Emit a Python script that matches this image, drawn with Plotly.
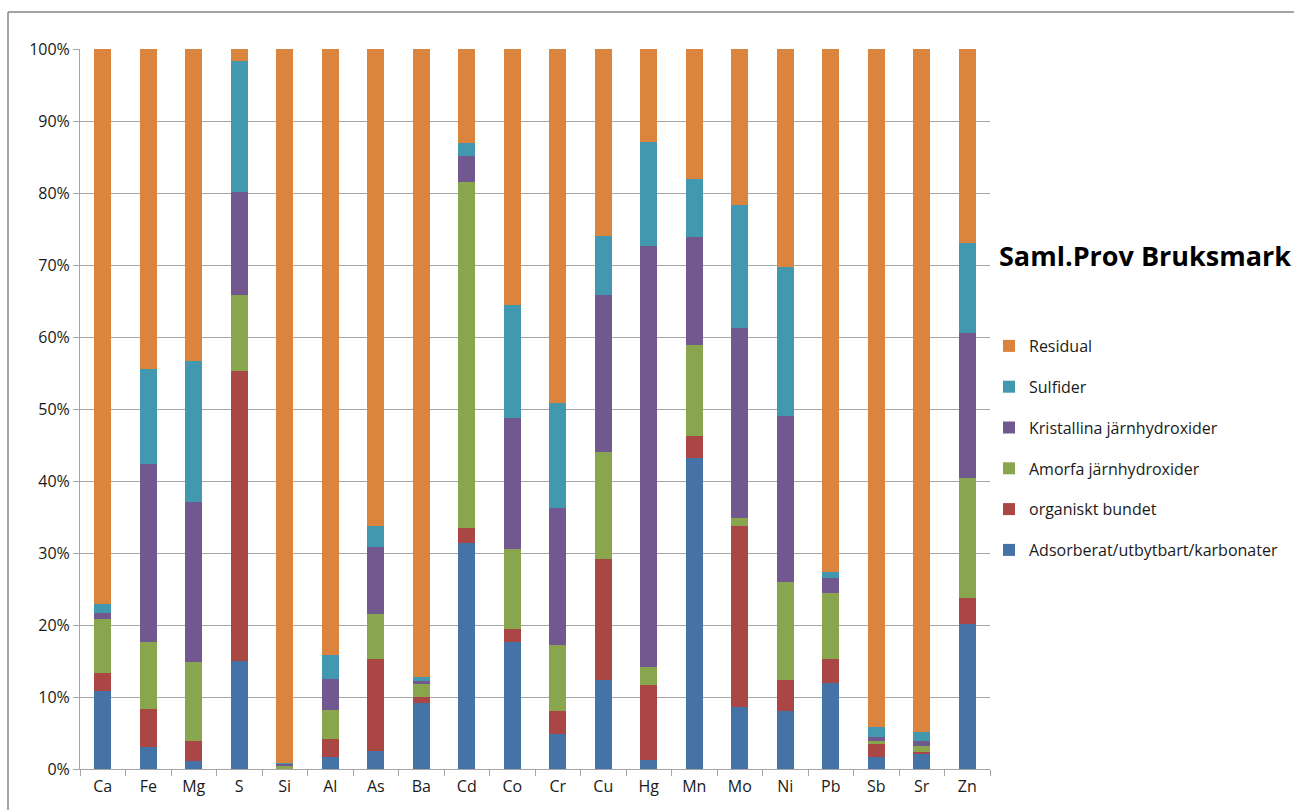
import plotly.graph_objects as go

# Elements along the x axis
elements = ["Ca", "Fe", "Mg", "S", "Si", "Al", "As", "Ba", "Cd", "Co",
            "Cr", "Cu", "Hg", "Mn", "Mo", "Ni", "Pb", "Sb", "Sr", "Zn"]

# Fraction shares (% of total), bottom to top in each column
adsorberat = [10.8, 3.0, 1.1, 15.0, 0.05, 1.7, 2.5, 9.1, 31.4, 17.6,
              4.9, 12.3, 1.2, 43.2, 8.6, 8.0, 12.0, 1.65, 2.1, 20.2]
organiskt = [2.5, 5.3, 2.8, 40.3, 0.02, 2.5, 12.8, 0.9, 2.1, 1.8,
             3.2, 16.8, 10.4, 3.0, 25.1, 4.4, 3.3, 1.85, 0.3, 3.5]
amorfa = [7.6, 9.3, 10.9, 10.6, 0.3, 4.0, 6.2, 1.8, 48.0, 11.1,
          9.1, 14.9, 2.5, 12.7, 1.1, 13.6, 9.1, 0.4, 0.8, 16.7]
kristallina = [0.8, 24.8, 22.3, 14.2, 0.35, 4.3, 9.3, 0.4, 3.7, 18.2,
               19.1, 21.9, 58.6, 15.0, 26.5, 23.0, 2.1, 0.6, 0.7, 20.2]
sulfider = [1.2, 13.1, 19.5, 18.2, 0.1, 3.3, 3.0, 0.6, 1.8, 15.7,
            14.6, 8.1, 14.4, 8.0, 17.1, 20.7, 0.8, 1.3, 1.3, 12.4]
residual = [77.1, 44.5, 43.4, 1.7, 99.18, 84.2, 66.2, 87.2, 13.0, 35.6,
            49.1, 26.0, 12.9, 18.1, 21.6, 30.3, 72.7, 94.2, 94.8, 27.0]

series = [
    ("Adsorberat/utbytbart/karbonater", adsorberat, "#4572A7"),
    ("organiskt bundet", organiskt, "#AA4643"),
    ("Amorfa järnhydroxider", amorfa, "#89A54E"),
    ("Kristallina järnhydroxider", kristallina, "#71588F"),
    ("Sulfider", sulfider, "#4198AF"),
    ("Residual", residual, "#DB843D"),
]

W, H = 1294, 810
ML, MR, MT, MB = 80, 304, 49, 41
PW, PH = W - ML - MR, H - MT - MB


def px_x(p):
    return (p - ML) / PW


def px_y(p):
    return (H - MB - p) / PH


fig = go.Figure()
for i, (name, vals, col) in enumerate(series):
    fig.add_trace(go.Bar(
        x=elements, y=vals, name=name, legendgroup=name,
        legendrank=len(series) - i,
        marker=dict(color=col, line=dict(width=0)),
    ))

FONT = "Open Sans"
grid = "#A6A6A6"

fig.update_layout(
    width=W, height=H,
    margin=dict(l=ML, r=MR, t=MT, b=MB, autoexpand=False),
    barmode="stack", bargap=0.62,
    plot_bgcolor="white", paper_bgcolor="white",
    font=dict(family=FONT, size=16, color="#1a1a1a"),
    showlegend=True,
    legend=dict(
        x=px_x(989), y=px_y(329), xanchor="left", yanchor="top",
        traceorder="grouped", tracegroupgap=17,
        font=dict(family=FONT, size=16, color="#1a1a1a"),
        bgcolor="rgba(0,0,0,0)",
    ),
    xaxis=dict(
        type="category", range=[-0.5, len(elements) - 0.5],
        showline=True, linecolor=grid, linewidth=1,
        ticks="outside", tickson="boundaries", ticklen=6, tickcolor=grid,
        showgrid=False, tickfont=dict(size=16), fixedrange=True,
        ticklabelstandoff=3,
    ),
    yaxis=dict(
        range=[0, 100], dtick=10, ticksuffix="%",
        showline=True, linecolor=grid, linewidth=1,
        ticks="outside", ticklen=6, tickcolor=grid,
        showgrid=True, gridcolor=grid, gridwidth=1,
        zeroline=False, tickfont=dict(size=16), fixedrange=True,
    ),
    annotations=[dict(
        text="<b>Saml.Prov Bruksmark</b>", xref="paper", yref="paper",
        x=px_x(997), y=px_y(255), xanchor="left", yanchor="middle",
        showarrow=False, font=dict(family=FONT, size=27, color="#000000"),
    )],
    shapes=[
        # chart-area frame (top and left edges visible)
        dict(type="line", xref="paper", yref="paper",
             x0=px_x(8), x1=px_x(W + 5), y0=px_y(12), y1=px_y(12),
             line=dict(color="#868686", width=1.5)),
        dict(type="line", xref="paper", yref="paper",
             x0=px_x(8), x1=px_x(8), y0=px_y(12), y1=px_y(H + 5),
             line=dict(color="#868686", width=1.5)),
    ],
)

fig.write_html("out.html")
